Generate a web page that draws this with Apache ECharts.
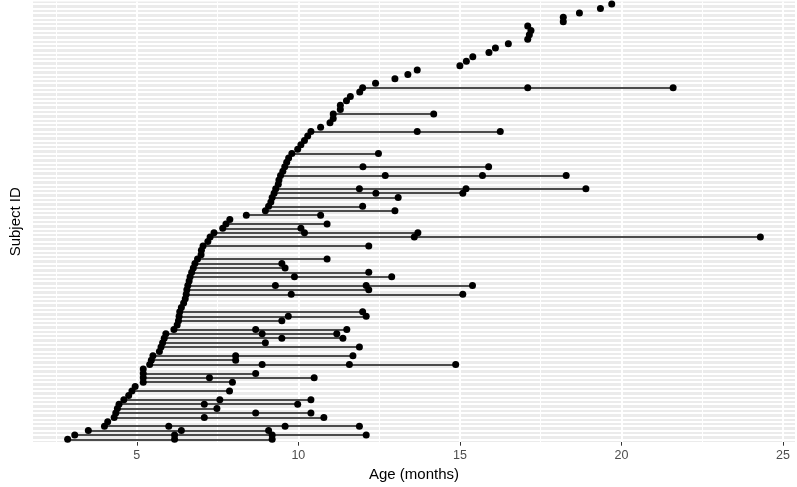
<!DOCTYPE html>
<html><head><meta charset="utf-8">
<script src="https://cdn.jsdelivr.net/npm/echarts@6/dist/echarts.min.js"></script>
<style>html,body{margin:0;padding:0;background:#fff}#c{width:797px;height:487px}</style>
</head><body><div id="c"></div>
<script>
// Subjects ordered from bottom (row 1) to top (row 100)
const firstAge = [
  2.86, 3.08, 3.50, 4.00, 4.10, 4.30, 4.35, 4.40, 4.45, 4.60,
  4.75, 4.85, 4.95, 5.20, 5.20, 5.20, 5.20, 5.40, 5.45, 5.50,
  5.70, 5.75, 5.80, 5.85, 5.90, 6.15, 6.25, 6.29, 6.31, 6.33,
  6.38, 6.45, 6.50, 6.53, 6.55, 6.58, 6.62, 6.65, 6.70, 6.75,
  6.80, 6.88, 6.99, 7.00, 7.05, 7.20, 7.27, 7.39, 7.66, 7.76,
  7.88, 8.39, 8.98, 9.08, 9.15, 9.19, 9.25, 9.30, 9.38, 9.40,
  9.45, 9.52, 9.58, 9.64, 9.70, 9.80, 9.98, 10.08, 10.19, 10.29,
  10.39, 10.69, 10.98, 11.08, 11.08, 11.30, 11.30, 11.49, 11.61, 11.90,
  11.99, 12.39, 12.99, 13.39, 13.68, 15.00, 15.20, 15.40, 15.90, 16.10,
  16.50, 17.10, 17.15, 17.20, 17.10, 18.20, 18.20, 18.70, 19.35, 19.70
];
const laterAges = [
  [6.17, 9.19], [6.17, 9.19, 12.10], [6.38, 9.08], [5.99, 9.59, 11.89], [],
  [7.09, 10.79], [8.68, 10.39], [7.48], [7.09, 9.98], [7.57, 10.39],
  [], [7.87], [], [7.96], [7.25, 10.49],
  [8.68], [], [8.88, 11.58, 14.87], [8.06], [8.06, 11.69],
  [], [11.89], [8.98], [9.49, 11.38], [8.88, 11.19],
  [8.68, 11.50], [], [9.49], [9.69, 12.10], [11.99],
  [], [], [], [9.78, 15.09], [12.18],
  [9.29, 12.10, 15.39], [], [9.88, 12.89], [12.18], [9.59],
  [9.49], [10.89], [], [], [12.18],
  [], [13.59, 24.30], [10.19, 13.70], [10.08], [10.89],
  [], [10.69], [12.99], [11.99], [],
  [13.09], [12.40, 15.09], [11.89, 15.19, 18.90], [], [],
  [12.69, 15.70, 18.29], [], [12.00, 15.89], [], [],
  [12.48], [], [], [], [],
  [13.68, 16.25], [], [], [], [14.19],
  [], [], [], [], [],
  [17.10, 21.60], [], [], [], [],
  [], [], [], [], [],
  [], [], [], [], [],
  [], [], [], [], []
];
const xTickValues = [5, 10, 15, 20, 25];
const xMinorValues = [2.5, 7.5, 12.5, 17.5, 22.5];

const rows = firstAge.map((_, i) => i + 1);
const allAges = firstAge.concat(...laterAges);
const aMin = Math.min(...allAges), aMax = Math.max(...allAges);
const pad = (aMax - aMin) * 0.05;

const points = [];
const segs = [];
rows.forEach((r, i) => {
  points.push([firstAge[i], r]);
  laterAges[i].forEach(a => points.push([a, r]));
  if (laterAges[i].length) {
    segs.push({coords: [[firstAge[i], r], [Math.max(...laterAges[i]), r]]});
  }
});

const gridLines = []
  .concat(xMinorValues.map(v => ({xAxis: v, lineStyle: {width: 0.95}})))
  .concat(xTickValues.map(v => ({xAxis: v, lineStyle: {width: 1.9}})))
  .concat(rows.map(r => ({yAxis: r, lineStyle: {width: 1.9}})));

const font = 'Liberation Sans, Arial, sans-serif';
const chart = echarts.init(document.getElementById('c'), null, {renderer: 'canvas'});
chart.setOption({
  animation: false,
  grid: {left: 25, right: 2, top: 1.45, bottom: 42.6, show: true,
         backgroundColor: '#EBEBEB', borderWidth: 0, containLabel: false},
  xAxis: {
    type: 'value', min: aMin - pad, max: aMax + pad,
    name: 'Age (months)', nameLocation: 'middle', nameGap: 25,
    nameTextStyle: {fontFamily: font, fontSize: 15, color: '#000'},
    axisLine: {show: false},
    axisTick: {show: true, length: 3.7, customValues: xTickValues,
               lineStyle: {color: '#333', width: 1}},
    axisLabel: {customValues: xTickValues, margin: 7, fontFamily: font,
                fontSize: 12.5, color: '#4D4D4D'},
    splitLine: {show: false}
  },
  yAxis: {
    type: 'value', min: 0.4, max: rows.length + 0.6,
    name: 'Subject ID', nameLocation: 'middle', nameGap: 10, nameRotate: 90,
    nameTextStyle: {fontFamily: font, fontSize: 15, color: '#000'},
    axisLine: {show: false}, axisTick: {show: false},
    axisLabel: {show: false}, splitLine: {show: false}
  },
  series: [
    {
      type: 'scatter', data: [], z: 0, zlevel: 0, silent: true,
      markLine: {silent: true, z: 0, symbol: ['none', 'none'], label: {show: false},
                 animation: false, lineStyle: {color: '#FFFFFF', type: 'solid'},
                 data: gridLines}
    },
    {
      type: 'lines', coordinateSystem: 'cartesian2d', z: 6, silent: true,
      lineStyle: {color: '#111', width: 1.7, opacity: 1}, data: segs
    },
    {
      type: 'scatter', z: 7, silent: true, symbol: 'circle', symbolSize: 7,
      itemStyle: {color: '#000', opacity: 1}, data: points
    }
  ]
});
</script></body></html>
